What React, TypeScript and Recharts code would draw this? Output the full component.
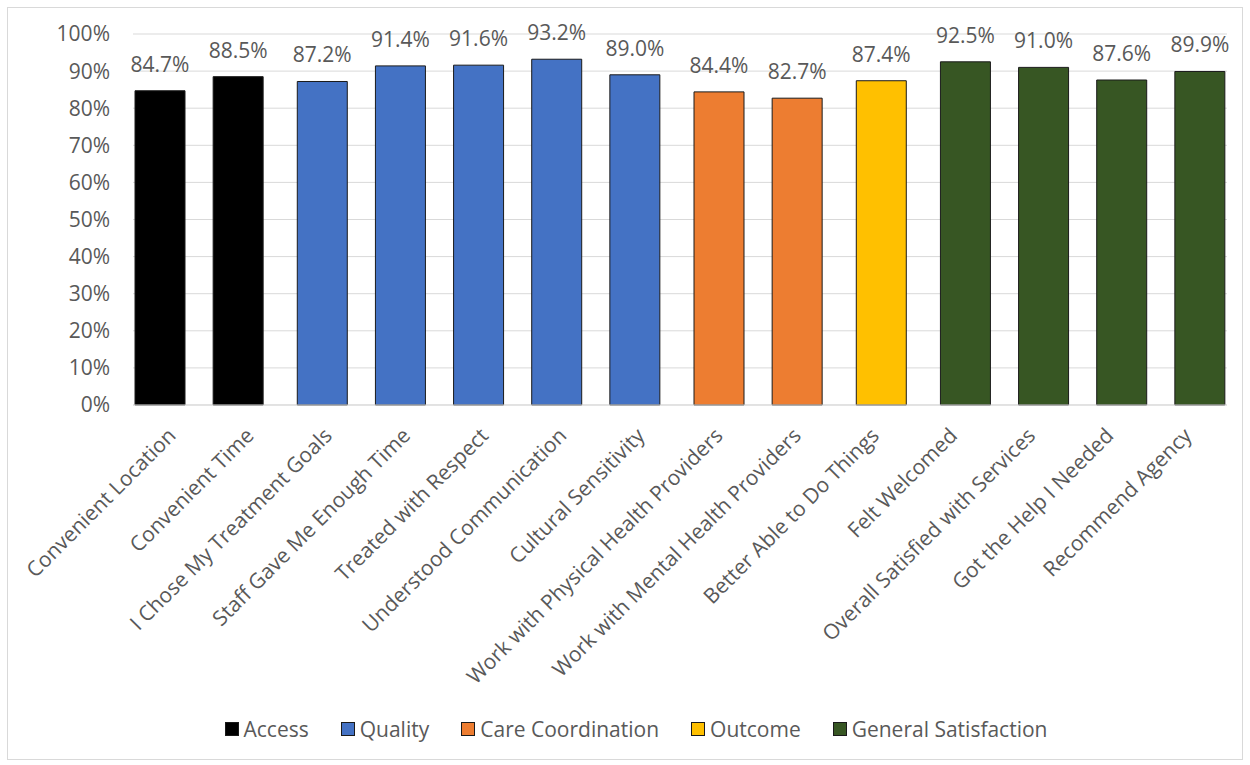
import { BarChart, Bar, XAxis, YAxis, CartesianGrid, Legend, LabelList } from 'recharts'

const categories = [
  'Convenient Location',
  'Convenient Time',
  'I Chose My Treatment Goals',
  'Staff Gave Me Enough Time',
  'Treated with Respect',
  'Understood Communication',
  'Cultural Sensitivity',
  'Work with Physical Health Providers',
  'Work with Mental Health Providers',
  'Better Able to Do Things',
  'Felt Welcomed',
  'Overall Satisfied with Services',
  'Got the Help I Needed',
  'Recommend Agency',
]

const groups = ['Access', 'Quality', 'Care Coordination', 'Outcome', 'General Satisfaction']

const categoryGroup = [
  'Access',
  'Access',
  'Quality',
  'Quality',
  'Quality',
  'Quality',
  'Quality',
  'Care Coordination',
  'Care Coordination',
  'Outcome',
  'General Satisfaction',
  'General Satisfaction',
  'General Satisfaction',
  'General Satisfaction',
]

const scores = [84.7, 88.5, 87.2, 91.4, 91.6, 93.2, 89.0, 84.4, 82.7, 87.4, 92.5, 91.0, 87.6, 89.9]

const yTicks = [0, 10, 20, 30, 40, 50, 60, 70, 80, 90, 100]

const groupColors: Record<string, string> = {
  Access: '#000000',
  Quality: '#4472C4',
  'Care Coordination': '#ED7D31',
  Outcome: '#FFC000',
  'General Satisfaction': '#375623',
}

const FONT = '"Open Sans", "Noto Sans", sans-serif'
const FONT_SIZE = 21
const TEXT = '#595959'
const GRID = '#d9d9d9'

// one column per group, so each bar sits in its own series (like the Excel original)
const data = categories.map((name, i) => {
  const row: Record<string, string | number | null> = { name }
  groups.forEach((g) => {
    row[g] = categoryGroup[i] === g ? scores[i] : null
  })
  return row
})

function CategoryTick({ x, y, payload }: any) {
  return (
    <g transform={`translate(${x + 5},${y + 32})`}>
      <text transform="rotate(-45)" textAnchor="end" fill={TEXT} fontSize={FONT_SIZE} fontFamily={FONT}>
        {payload.value}
      </text>
    </g>
  )
}

function GroupLegend() {
  return (
    <div
      style={{
        display: 'flex',
        justifyContent: 'center',
        alignItems: 'center',
        height: 24,
        fontFamily: FONT,
        fontSize: FONT_SIZE,
        color: TEXT,
        paddingLeft: 22,
      }}
    >
      {groups.map((g) => (
        <div key={g} style={{ display: 'flex', alignItems: 'center', margin: '0 16px' }}>
          <span
            style={{
              display: 'inline-block',
              width: 14,
              height: 14,
              boxSizing: 'border-box',
              background: groupColors[g],
              border: '1.5px solid #1a1a1a',
              marginRight: 5,
            }}
          />
          {g}
        </div>
      ))}
    </div>
  )
}

const fmt = (v: any) => (v == null ? '' : `${Number(v).toFixed(1)}%`)

export default function App() {
  return (
    <div
      style={{
        position: 'absolute',
        left: 7,
        top: 7,
        border: `1px solid ${GRID}`,
        background: '#fff',
      }}
    >
      <BarChart
        width={1234}
        height={751}
        data={data}
        barGap={-44}
        margin={{ top: 26, right: 15, bottom: 18, left: 0 }}
        style={{ fontFamily: FONT }}
      >
        <CartesianGrid vertical={false} stroke={GRID} />
        <XAxis
          dataKey="name"
          interval={0}
          height={312}
          tickLine={false}
          tickSize={0}
          tickMargin={0}
          axisLine={{ stroke: GRID }}
          tick={<CategoryTick />}
        />
        <YAxis
          type="number"
          domain={[0, 100]}
          ticks={yTicks}
          width={125}
          axisLine={false}
          tickLine={false}
          tickSize={0}
          tickMargin={23}
          tickFormatter={(v) => `${v}%`}
          tick={{ fill: TEXT, fontSize: FONT_SIZE, fontFamily: FONT }}
        />
        <Legend verticalAlign="bottom" content={<GroupLegend />} wrapperStyle={{ left: 0, width: 1234 }} />
        {groups.map((g) => (
          <Bar
            key={g}
            dataKey={g}
            fill={groupColors[g]}
            stroke="#1a1a1a"
            strokeWidth={1}
            barSize={50}
            isAnimationActive={false}
          >
            <LabelList
              dataKey={g}
              position="top"
              offset={19}
              formatter={fmt}
              fill={TEXT}
              fontSize={FONT_SIZE}
              fontFamily={FONT}
            />
          </Bar>
        ))}
      </BarChart>
    </div>
  )
}
